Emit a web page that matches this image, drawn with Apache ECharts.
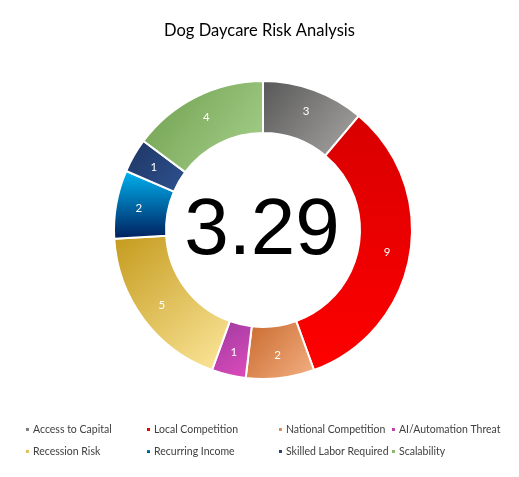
<!DOCTYPE html>
<html>
<head>
<meta charset="utf-8">
<script src="https://cdn.jsdelivr.net/npm/echarts@6/dist/echarts.min.js"></script>
<style>html,body{margin:0;padding:0;background:#fff}#c{width:519px;height:477px}</style>
</head>
<body>
<div id="c"></div>
<script>
var categories = ["Access to Capital","Local Competition","National Competition","AI/Automation Threat","Recession Risk","Recurring Income","Skilled Labor Required","Scalability"];
var values = [3, 9, 2, 1, 5, 2, 1, 4];
var centerScore = "3.29";
var chartTitle = "Dog Daycare Risk Analysis";

var G = echarts.graphic.LinearGradient;
var fills = [
  new G(0,0,1,1,[{offset:0,color:'#575757'},{offset:1,color:'#aaa8a6'}]),
  new G(0,0,0,1,[{offset:0,color:'#d80000'},{offset:1,color:'#ff0000'}]),
  new G(0,0,1,1,[{offset:0,color:'#c8682c'},{offset:1,color:'#f4b184'}]),
  new G(0,0,1,1,[{offset:0,color:'#9c3aa0'},{offset:1,color:'#e04cbc'}]),
  new G(0,0,1,1,[{offset:0,color:'#c49a1c'},{offset:1,color:'#fde89e'}]),
  new G(0,0,0,1,[{offset:0,color:'#00b4f2'},{offset:1,color:'#001e5c'}]),
  new G(0,0,1,1,[{offset:0,color:'#1e3562'},{offset:1,color:'#2e5290'}]),
  new G(0,0,1,1,[{offset:0,color:'#6e9e4c'},{offset:1,color:'#a8d28e'}])
];
var legendColors = ['#7f7f7f','#e00000','#e99a66','#c040b0','#f0d070','#0080c0','#203864','#8cbc6e'];

var data = categories.map(function(n,i){
  return {name:n, value:values[i], itemStyle:{color:fills[i]}};
});

function legendCol(names, left){
  return {
    orient:'vertical', left:left, top:422.5, padding:0, itemWidth:5, itemHeight:5, itemGap:8,
    icon:'rect', data:names, selectedMode:false,
    textStyle:{fontFamily:'Lato', fontSize:10.5, color:'#404040', lineHeight:14, padding:[0,0,0,-2], overflow:'none'}
  };
}

var chart = echarts.init(document.getElementById('c'));
chart.setOption({
  animation:false,
  color: legendColors,
  title:{text:chartTitle, left:'center', top:17, textStyle:{fontFamily:'Lato', fontSize:16.5, fontWeight:'normal', color:'#000'}},
  legend:[
    legendCol([categories[0],categories[4]], 24),
    legendCol([categories[1],categories[5]], 145),
    legendCol([categories[2],categories[6]], 277),
    legendCol([categories[3],categories[7]], 390)
  ],
  graphic:[{type:'text', x:262, y:232, style:{text:centerScore, fontFamily:'Liberation Sans', fontSize:80, fill:'#000', align:'center', verticalAlign:'middle'}}],
  series:[{
    type:'pie', center:[263,230], radius:[97,149], startAngle:90, clockwise:true,
    avoidLabelOverlap:false,
    itemStyle:{borderColor:'#fff', borderWidth:2},
    label:{show:true, position:'inside', color:'#fff', fontFamily:'Lato', fontSize:11.5, formatter:'{c}'},
    labelLine:{show:false},
    emphasis:{disabled:true},
    data:data
  }]
});
</script>
</body>
</html>
